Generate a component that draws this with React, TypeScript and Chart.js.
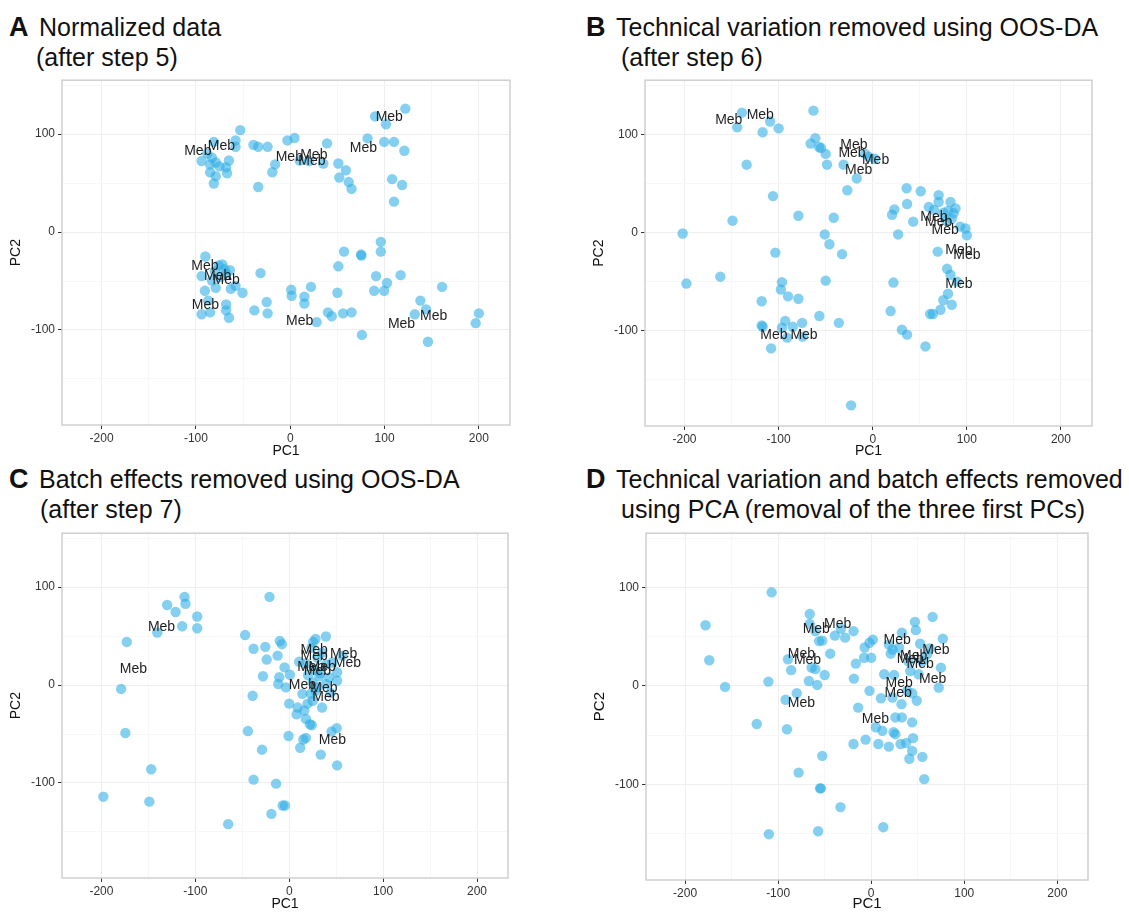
import React, { useEffect, useRef } from "react";
import { Chart, registerables } from "chart.js";
Chart.register(...registerables);

const FONT = '"Liberation Sans", Arial, Helvetica, sans-serif';
const X_MIN = -242, X_MAX = 233, Y_MIN = -197, Y_MAX = 155;
const xTickValues = [-200, -150, -100, -50, 0, 50, 100, 150, 200];
const yTickValues = [-150, -100, -50, 0, 50, 100, 150];
const labelText = "Meb";
const xTitle = "PC1";
const yTitle = "PC2";

type P = [number, number];

// Panel A: normalized data
const pointsA: P[] = [
  [-94, 72.5], [-81, 92], [-85, 69], [-79, 71], [-75, 67], [-85, 61], [-79, 57], [-81, 49.5], [-67, 60], [-65, 73],
  [-68, 66], [-58, 93.5], [-58, 87], [-53, 104], [-83, 76], [-88, 80],
  [-39, 89], [-34, 87], [-24, 87], [-34, 46], [-16, 69], [-19, 61], [-3, 93.5], [4.5, 96], [39, 90.5], [10, 73],
  [20, 72.5], [35, 70], [51, 70], [59, 63], [52, 55.6], [62, 51], [65, 44],
  [90, 118], [122, 126], [101.5, 110], [82, 95.6], [99.6, 92], [110, 92], [121, 83], [108, 54], [118.6, 48], [110, 31],
  [-90, -25], [-94, -45], [-76, -34], [-70, -38], [-64, -39], [-72, -33], [-68, -42], [-83, -49.5], [-79, -57], [-90.5, -60],
  [-63, -58], [-50.6, -62], [-58, -55], [-31.5, -42], [-94, -84], [-85, -82], [-68, -74], [-68, -80], [-65, -87.5], [-87, -70],
  [-38, -80], [-25, -71.5], [-24, -83], [-80, -40], [-74, -46],
  [1, -59], [1.5, -65], [15, -66], [15, -73], [22, -56], [28, -92], [40, -82], [44, -86], [50, -62], [51, -35],
  [57, -20], [56, -83], [65, -82], [75, -23], [75.5, -24], [76, -105], [96, -10], [96, -20], [91, -45], [89, -60],
  [99.6, -60], [102.6, -52], [117, -44], [132, -84], [138, -70], [144, -79], [146, -112], [161, -56], [196.6, -93], [200, -83],
];
const labelsA: P[] = [
  [-98, 83], [-73, 88], [-1, 76], [25, 79], [23, 72.5], [105, 117], [77.6, 86],
  [-90.5, -35], [-77, -45], [-68, -49.5], [-90, -75], [10, -91], [118, -94], [152, -86],
];

// Panel B: technical variation removed
const pointsB: P[] = [
  [-139, 122], [-144, 107], [-109, 113], [-117, 102], [-100, 106], [-63, 124], [-61, 96], [-66, 90.5], [-57, 87], [-55, 86],
  [-50, 80], [-48.6, 69], [-31, 69], [-17, 55], [-27, 43], [-134, 69], [-106, 37], [-149, 12], [-79, 17], [-41.5, 15],
  [-202, -1], [-51, -2], [-46, -12], [-103.5, -20.5], [-32.6, -22],
  [-4, 77], [2, 75], [-8, 80], [36, 45], [51, 42], [70, 38], [36.5, 29], [23, 23.5], [20.5, 18], [43, 11],
  [27, -2], [59.6, 26], [65, 23], [70, 31], [82.6, 31], [88, 24.5], [86, 19.5], [80, 22], [75, 20], [84, 14],
  [78, 12], [93, 6], [98.6, 4], [100, -3], [69, -19.5],
  [79, -37], [82.6, -43], [89.7, -50], [22, -51], [80, -62.4], [75, -69], [84, -73.6], [72, -78.7], [61, -83], [64, -83],
  [19, -80], [31, -99], [36.5, -104], [56, -116],
  [-162, -45], [-198, -52], [-96.5, -50.6], [-97.6, -58], [-90, -65], [-79, -67.5], [-50, -49], [-118, -70], [-56.7, -85], [-36, -92],
  [-118, -94.6], [-117, -96], [-93, -90], [-96.5, -97], [-85, -96], [-75, -92], [-91, -107], [-108, -118], [-74.5, -106], [-23, -176],
];
const labelsB: P[] = [
  [-153, 114], [-119.5, 119], [-20, 89], [-22, 81], [3, 74], [-15, 63.5], [65, 16], [70, 11], [77, 2.5],
  [91.5, -18], [100, -23], [91.5, -53], [-105, -105], [-73, -105],
];

// Panel C: batch effects removed
const pointsC: P[] = [
  [-111.5, 90], [-110.5, 83], [-130, 81.7], [-121, 74.6], [-98, 70], [-114, 60], [-98, 58], [-140.5, 53.6], [-173, 44], [-179, -4],
  [-174.5, -49], [-147, -86], [-198, -114], [-149, -119],
  [-21, 90], [-47, 51], [-38, 37], [-25.5, 39], [-10, 45], [-7.8, 41.7], [-12.4, 30], [-24, 26], [-5, 18], [0.7, 10.5],
  [-10.6, 8], [-28, 9], [-11.7, 1], [-3.5, -2.4], [-39, -11], [0, -19], [9, -23], [7.8, -30], [16, -26], [17.7, -34.6],
  [22, -40], [24, -41], [-44, -47], [-0.7, -52], [15, -55.6], [17.7, -54], [11.7, -64], [-29, -66], [33.6, -71], [51, -82],
  [45, -47.5], [50.6, -44], [-38, -96.6], [-14, -100.7], [-7, -123], [-4.6, -123], [-19, -131.5], [-65, -142],
  [28, 47], [39, 49.5], [25.5, 44], [23.7, 38], [10.6, 23.7], [17.7, 22], [26.5, 16], [32, 9], [42.5, 7.8], [51, 4.4],
  [51, 13], [39, 1], [25, 2.7], [30, -2.4], [23, -9], [14, -9], [25, -16], [35, -23], [19.5, -19], [39, 21],
  [56.6, 30], [46, 23], [30, 28], [35, 33], [20, 10], [28, -6], [33, 12], [44, -8],
];
const labelsC: P[] = [
  [-136, 58.6], [-166, 16], [26.5, 35.6], [26.5, 30], [58, 32], [62, 22], [23, 18], [35, 18], [30, 14.6],
  [14, 0], [37, -3], [39, -12.5], [46, -56],
];

// Panel D: PCA removal
const pointsD: P[] = [
  [-107, 95], [-178, 61.6], [-174, 26], [-157, -1], [-110.5, 4.4], [-123, -38.7], [-90.5, -44], [-92, -14], [-80, -7.4], [-78, -88],
  [-55, -104], [-54, -104], [-33, -123], [-52.6, -71], [-110, -150.5], [-57, -147.5], [13, -143.4],
  [-66, 73], [-66, 63], [-60, 55.6], [-32.6, 58], [-19, 55.6], [-28, 49], [-39, 51], [-52.6, 46], [-56, 45.5],
  [-44, 32.7], [-89.5, 27], [-86, 16], [-64, 18.5], [-60, 17], [-50, 11], [-67, 5], [-58, 1], [-16.5, 22.6], [-18.6, 7.4],
  [-7, 39], [-1.8, 43.8], [1.8, 47], [-7.7, 28.6], [0, 28.6], [-1.8, -5], [10.5, -12.5], [-14, -22], [-19, -59], [-6, -54.5],
  [7.7, -59], [19, -61.6], [31.6, -59], [37.5, -58], [45, -53], [26, -49], [24, -47], [12, -45.5], [5, -42], [33, -32],
  [26, -32], [44, -37], [44, -66], [41, -74], [55, -72], [57, -94.6],
  [33, 54], [47, 65], [48, 56.6], [66, 70], [77, 48], [52.6, 42.8], [19, 42], [23, 37], [30, 38.7], [21, 32.7],
  [40, 25], [42, 15], [51, 11.8], [75, 18.5], [72.6, -1.7], [14, 11.8], [24.6, 11], [38.6, -5], [44, -7.4], [49, -15],
  [32.6, -18.5], [22.8, -11.8], [60, 32], [55, 25], [63, 38],
];
const labelsD: P[] = [
  [-59, 58], [-36, 63], [-75, 32], [-68.4, 26], [-75, -17], [28, 46], [69.5, 36], [45.6, 30], [42, 27.6],
  [52.6, 22.6], [66, 6.7], [30, 2.4], [29, -7.4], [4.6, -34],
];

type Geo = {
  left: number; top: number; w: number; h: number; padTop: number; padRight: number;
  yW: number; xH: number; tickSize: number; titleSize: number;
};

function isMajor(v: number) {
  return v % 100 === 0;
}

function ScatterPanel({ points, labels, geo }: { points: P[]; labels: P[]; geo: Geo }) {
  const ref = useRef<HTMLCanvasElement | null>(null);
  useEffect(() => {
    if (!ref.current) return;
    const labelPlugin = {
      id: "mebLabels",
      afterDatasetsDraw(chart: any) {
        const { ctx, scales } = chart;
        ctx.save();
        ctx.font = `14px ${FONT}`;
        ctx.fillStyle = "#1e1e1e";
        ctx.textAlign = "center";
        ctx.textBaseline = "middle";
        for (const [vx, vy] of labels) {
          ctx.fillText(labelText, scales.x.getPixelForValue(vx), scales.y.getPixelForValue(vy));
        }
        ctx.restore();
      },
      afterDraw(chart: any) {
        const { ctx, chartArea } = chart;
        ctx.save();
        ctx.strokeStyle = "#cfcfcf";
        ctx.lineWidth = 1.5;
        ctx.strokeRect(chartArea.left, chartArea.top, chartArea.right - chartArea.left, chartArea.bottom - chartArea.top);
        ctx.restore();
      },
    };
    const gridColor = (c: any) => (c.tick && isMajor(c.tick.value) ? "#eeeeee" : "#f7f7f7");
    const tickColor = (c: any) => (c.tick && isMajor(c.tick.value) ? "#333333" : "rgba(0,0,0,0)");
    const chart = new Chart(ref.current, {
      type: "scatter",
      data: {
        datasets: [
          {
            data: points.map(([x, y]) => ({ x, y })),
            backgroundColor: "rgba(45,172,230,0.58)",
            borderWidth: 0,
            pointRadius: 5.2,
            pointHoverRadius: 5.2,
          },
        ],
      },
      options: {
        animation: false,
        responsive: false,
        devicePixelRatio: 1,
        layout: { padding: { top: geo.padTop, right: geo.padRight, left: 0, bottom: 0 } },
        plugins: { legend: { display: false }, tooltip: { enabled: false } },
        scales: {
          x: {
            type: "linear",
            min: X_MIN,
            max: X_MAX,
            afterBuildTicks: (s: any) => {
              s.ticks = xTickValues.map((v) => ({ value: v }));
            },
            afterFit: (s: any) => {
              s.height = geo.xH;
            },
            border: { display: false },
            grid: { color: gridColor, tickColor, tickLength: 4, lineWidth: 1 },
            ticks: {
              autoSkip: false,
              maxRotation: 0,
              padding: 2,
              color: "#333",
              font: { family: FONT, size: geo.tickSize },
              callback: (v: any) => (isMajor(Number(v)) ? String(v) : ""),
            },
            title: { display: true, text: xTitle, color: "#111", font: { family: FONT, size: geo.titleSize }, padding: { top: 0, bottom: 0 } },
          },
          y: {
            type: "linear",
            min: Y_MIN,
            max: Y_MAX,
            afterBuildTicks: (s: any) => {
              s.ticks = yTickValues.map((v) => ({ value: v }));
            },
            afterFit: (s: any) => {
              s.width = geo.yW;
            },
            border: { display: false },
            grid: { color: gridColor, tickColor, tickLength: 4, lineWidth: 1 },
            ticks: {
              autoSkip: false,
              padding: 3,
              color: "#333",
              font: { family: FONT, size: geo.tickSize },
              callback: (v: any) => (isMajor(Number(v)) ? String(v) : ""),
            },
            title: { display: true, text: yTitle, color: "#111", font: { family: FONT, size: geo.titleSize }, padding: { top: 8, bottom: 0 } },
          },
        },
      },
      plugins: [labelPlugin],
    } as any);
    return () => chart.destroy();
  }, [points, labels, geo]);
  return (
    <canvas
      ref={ref}
      width={geo.w}
      height={geo.h}
      style={{ position: "absolute", left: geo.left, top: geo.top, width: geo.w, height: geo.h }}
    />
  );
}

const geoA: Geo = { left: 0, top: 70, w: 520, h: 390, padTop: 8, padRight: 10, yW: 62, xH: 35, tickSize: 12, titleSize: 14 };
const geoB: Geo = { left: 583, top: 70, w: 520, h: 390, padTop: 10, padRight: 11, yW: 62, xH: 34, tickSize: 12, titleSize: 14 };
const geoC: Geo = { left: 0, top: 523, w: 520, h: 390, padTop: 10, padRight: 12, yW: 62, xH: 35, tickSize: 12, titleSize: 14 };
const geoD: Geo = { left: 583, top: 523, w: 520, h: 390, padTop: 10, padRight: 15, yW: 63, xH: 33, tickSize: 12, titleSize: 15 };

const baseText: React.CSSProperties = {
  position: "absolute",
  fontFamily: FONT,
  fontSize: 25,
  lineHeight: "30px",
  whiteSpace: "nowrap",
  color: "#111",
};
const letterText: React.CSSProperties = { ...baseText, fontWeight: "bold", fontSize: 27 };

function Title({ letter, line1, line2, x, y, line2x }: { letter: string; line1: string; line2: string; x: number; y: number; line2x: number }) {
  return (
    <>
      <div style={{ ...letterText, left: x, top: y }}>{letter}</div>
      <div style={{ ...baseText, left: x + 30, top: y }}>{line1}</div>
      <div style={{ ...baseText, left: line2x, top: y + 30 }}>{line2}</div>
    </>
  );
}

export default function App() {
  return (
    <div style={{ position: "absolute", left: 0, top: 0, width: 1129, height: 913, background: "#fff", overflow: "hidden" }}>
      <Title letter="A" line1="Normalized data" line2="(after step 5)" x={9} y={12} line2x={36} />
      <Title letter="B" line1="Technical variation removed using OOS-DA" line2="(after step 6)" x={586} y={12} line2x={621} />
      <Title letter="C" line1="Batch effects removed using OOS-DA" line2="(after step 7)" x={9} y={464} line2x={40} />
      <Title letter="D" line1="Technical variation and batch effects removed" line2="using PCA (removal of the three first PCs)" x={586} y={464} line2x={621} />
      <ScatterPanel points={pointsA} labels={labelsA} geo={geoA} />
      <ScatterPanel points={pointsB} labels={labelsB} geo={geoB} />
      <ScatterPanel points={pointsC} labels={labelsC} geo={geoC} />
      <ScatterPanel points={pointsD} labels={labelsD} geo={geoD} />
    </div>
  );
}
